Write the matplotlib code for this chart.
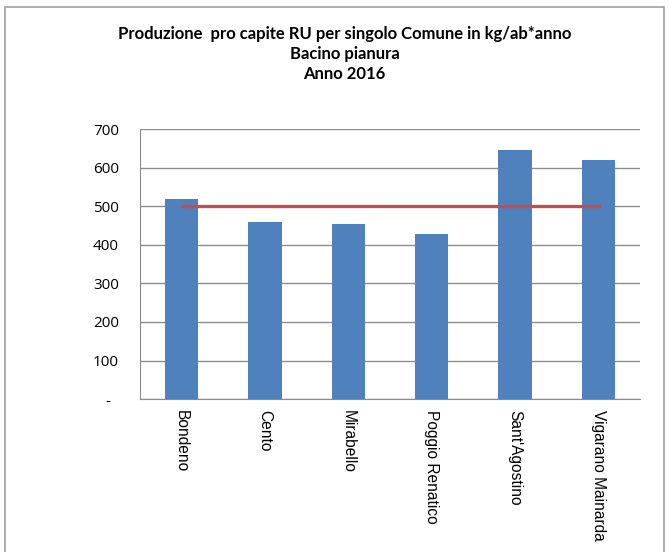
import matplotlib.pyplot as plt
from matplotlib.patches import Rectangle
from matplotlib.ticker import FixedLocator, FixedFormatter

comuni = ["Bondeno", "Cento", "Mirabello", "Poggio Renatico", "Sant'Agostino", "Vigarano Mainarda"]
produzione = [518, 460, 453, 429, 647, 621]
media = [500, 500, 500, 500, 500, 500]
yticks = [0, 100, 200, 300, 400, 500, 600, 700]
ylabels = ["-  ", "100", "200", "300", "400", "500", "600", "700"]

fig = plt.figure(figsize=(6.69, 5.52), dpi=100)
ax = fig.add_axes([0.209, 0.277, 0.748, 0.489])

x = list(range(len(comuni)))
ax.bar(x, produzione, width=0.4, color="#4F81BD", zorder=3)
ax.plot(x, media, color="#C0504D", linewidth=2.4, zorder=4)

ax.set_xlim(-0.5, len(comuni) - 0.5)
ax.set_ylim(0, 700)
ax.yaxis.set_major_locator(FixedLocator(yticks))
ax.yaxis.set_major_formatter(FixedFormatter(ylabels))
ax.set_xticks(x)
ax.set_xticklabels(comuni, rotation=270, fontsize=11.2, family="Liberation Sans", va="top", ha="center")
ax.tick_params(axis="x", length=0, pad=8)
ax.tick_params(axis="y", length=0, pad=15, labelsize=11)
for lab in ax.get_yticklabels():
    lab.set_family("Open Sans")

ax.grid(axis="y", color="#8c8c8c", linewidth=1, zorder=0)
for s in ["top", "right"]:
    ax.spines[s].set_visible(False)
ax.spines["left"].set_color("#8c8c8c")
ax.spines["bottom"].set_color("#8c8c8c")

fig.text(0.515, 0.953, "Produzione  pro capite RU per singolo Comune in kg/ab*anno\nBacino pianura\nAnno 2016",
         ha="center", va="top", fontsize=12, fontweight="bold", family="Lato", linespacing=1.3)

fig.patches.append(Rectangle((5 / 669, -0.05), 659 / 669, 1.05 - 7 / 552, transform=fig.transFigure,
                             fill=False, edgecolor="#a0a0a0", linewidth=1.2))

fig.savefig("out.png", dpi=100)
